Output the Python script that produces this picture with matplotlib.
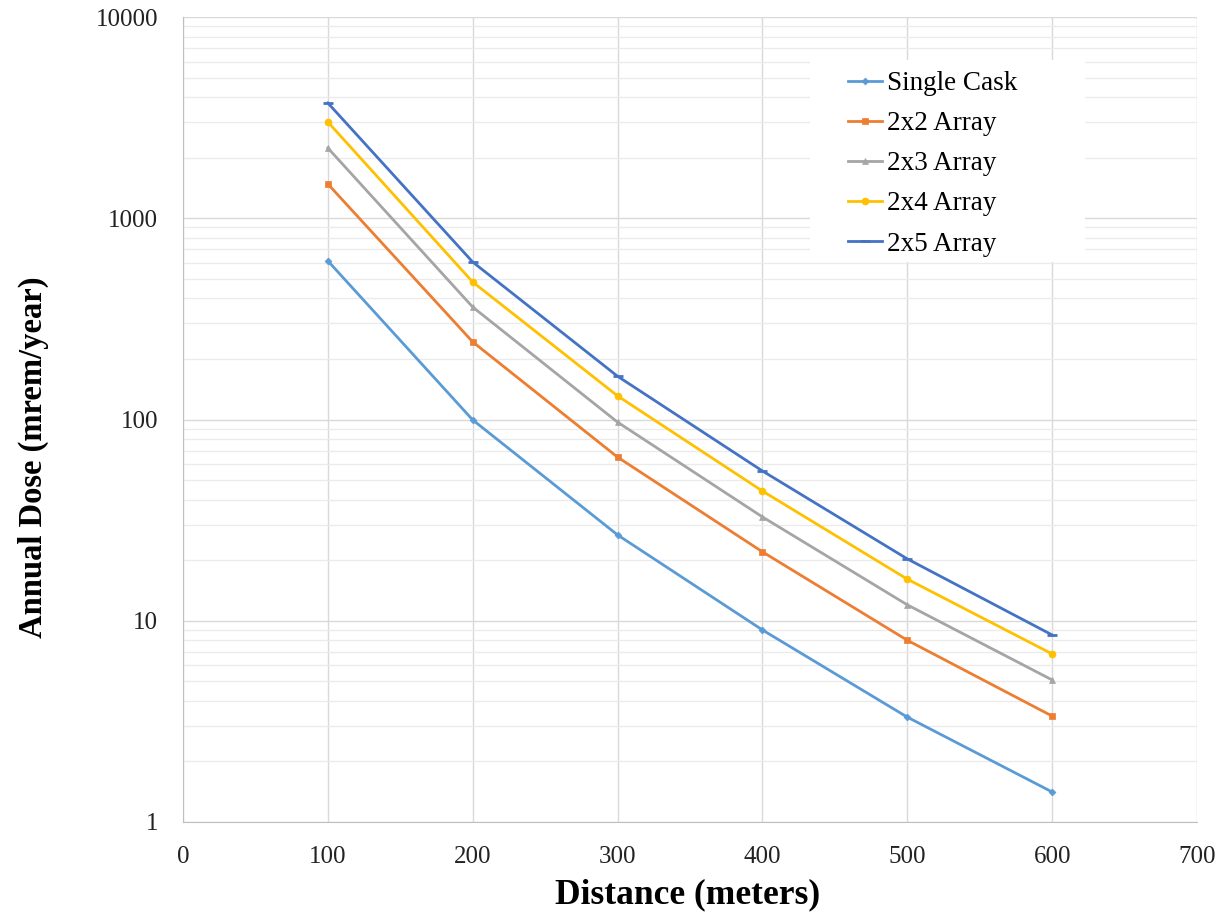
import numpy as np
import matplotlib.pyplot as plt
from matplotlib.patches import Rectangle

plt.rcParams['font.family'] = ['Liberation Serif', 'DejaVu Serif']

distance = [100, 200, 300, 400, 500, 600]
single_cask = [614, 99.5, 26.7, 9.0, 3.32, 1.41]
array_2x2 = [1480, 243, 65, 22, 8.0, 3.36]
array_2x3 = [2234, 362, 97, 32.8, 12.0, 5.08]
array_2x4 = [3008, 482, 131, 44.1, 16.1, 6.84]
array_2x5 = [3740, 606, 164, 55.5, 20.3, 8.5]

series = [
    ("Single Cask", single_cask, "#5B9BD5", "D", 3.5),
    ("2x2 Array", array_2x2, "#ED7D31", "s", 5),
    ("2x3 Array", array_2x3, "#A5A5A5", "^", 5),
    ("2x4 Array", array_2x4, "#FFC000", "o", 5),
    ("2x5 Array", array_2x5, "#4472C4", "_", 7),
]

W, H = 1225, 915
fig = plt.figure(figsize=(W / 100, H / 100), dpi=100)
ax = fig.add_axes([183 / W, 1 - 822 / H, (1197 - 183) / W, (822 - 17) / H])

for label, vals, color, marker, ms in series:
    ax.plot(distance, vals, color=color, lw=2.0, marker=marker, markersize=ms,
            markeredgewidth=2 if marker == "_" else 0.5, label=label, zorder=3)

ax.set_yscale('log')
ax.set_xlim(0, 700)
ax.set_ylim(1, 10000)
ax.set_xticks(range(0, 701, 100))
ax.set_yticks([1, 10, 100, 1000, 10000])
ax.set_yticklabels(['1', '10', '100', '1000', '10000'])
ax.tick_params(axis='both', which='both', labelsize=18, length=0, colors='#222222')
ax.tick_params(axis='x', pad=17)
ax.tick_params(axis='y', pad=18)

ax.grid(True, which='major', color='#D9D9D9', lw=1)
ax.grid(True, which='minor', axis='y', color='#EBEBEB', lw=1)
ax.set_axisbelow(True)
for side in ['top', 'right']:
    ax.spines[side].set_visible(False)
for side in ['left', 'bottom']:
    ax.spines[side].set_color('#BFBFBF')

fig.text(688 / W, 1 - 895 / H, 'Distance (meters)', fontsize=25.5,
         fontweight='bold', ha='center', va='center')
fig.text(33 / W, 1 - 457 / H, 'Annual Dose (mrem/year)', fontsize=23.5,
         fontweight='bold', ha='center', va='center', rotation=90)

# white legend box covering the gridlines
fig.patches.append(Rectangle((810 / W, 1 - 262 / H), 275 / W, 202 / H,
                             transform=fig.transFigure, facecolor='white',
                             edgecolor='none', zorder=1))
ax.set_zorder(0)
ax.patch.set_visible(False)

leg = fig.legend(*ax.get_legend_handles_labels(), loc='upper left',
                 bbox_to_anchor=(848 / W, 1 - 71 / H), fontsize=19.5,
                 frameon=False, borderpad=0, borderaxespad=0,
                 handlelength=1.25, handletextpad=0.2, labelspacing=0.56)

fig.savefig('out.png', dpi=100)
